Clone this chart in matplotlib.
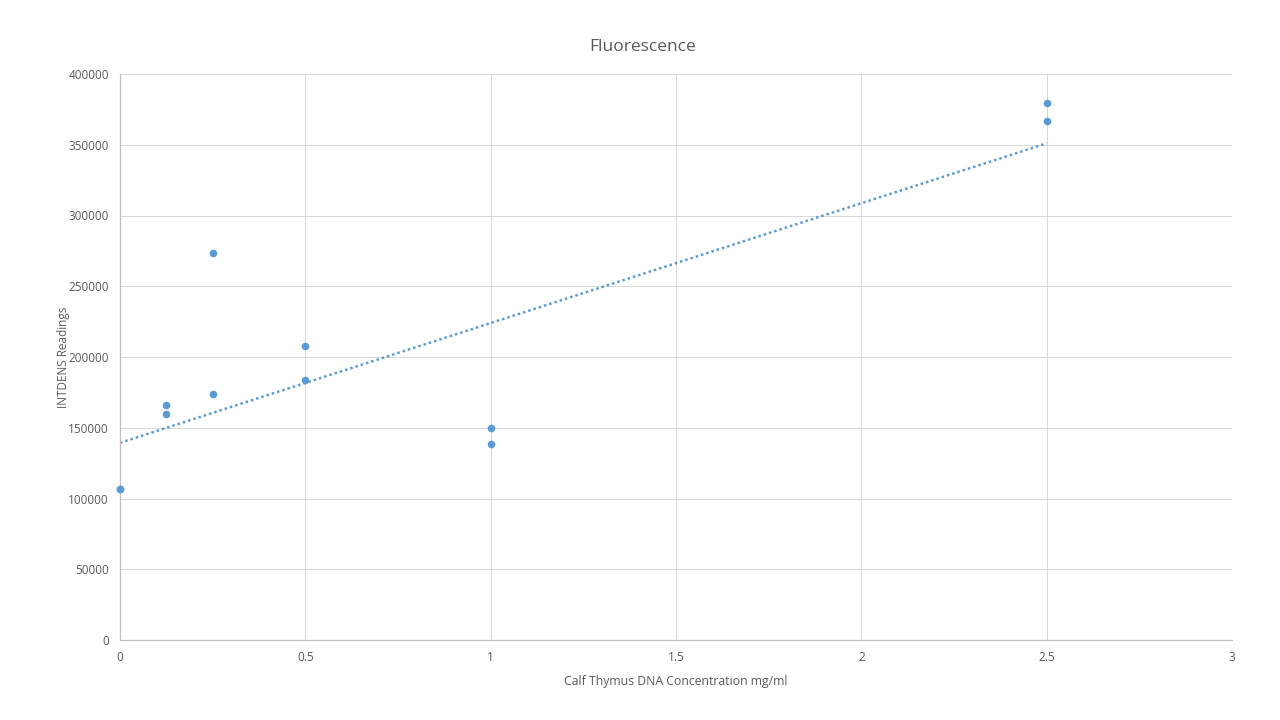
import numpy as np
import matplotlib
matplotlib.use("Agg")
import matplotlib.pyplot as plt

plt.rcParams['font.family'] = ['Open Sans', 'DejaVu Sans']

concentration = [0, 0, 0.125, 0.125, 0.25, 0.25, 0.5, 0.5, 1, 1, 2.5, 2.5]
readings = [107000, 106800, 166000, 159700, 273500, 173900, 207800, 183700,
            149800, 138500, 379500, 366800]

title = "Fluorescence"
xlabel = "Calf Thymus DNA Concentration mg/ml"
ylabel = "INTDENS Readings"
xticks = [0, 0.5, 1, 1.5, 2, 2.5, 3]
xticklabels = ["0", "0.5", "1", "1.5", "2", "2.5", "3"]
yticks = [0, 50000, 100000, 150000, 200000, 250000, 300000, 350000, 400000]

blue = "#5B9BD5"
grid_c = "#D9D9D9"
text_c = "#595959"

fig = plt.figure(figsize=(12.8, 7.2), dpi=100)
ax = fig.add_axes([120/1280, 1-640/720, (1232-120)/1280, (640-74)/720])

x = np.array(concentration)
y = np.array(readings)
slope, intercept = np.polyfit(x, y, 1)
xt = np.array([x.min(), x.max()])
ax.plot(xt, slope*xt + intercept, linestyle=(0, (1, 1.2)), color=blue, lw=1.8, zorder=2)
ax.scatter(x, y, s=30, color=blue, zorder=3, clip_on=False, linewidths=0)

ax.set_xlim(0, 3)
ax.set_ylim(0, 400000)
ax.set_xticks(xticks)
ax.set_xticklabels(xticklabels)
ax.set_yticks(yticks)
ax.set_yticklabels([str(v) for v in yticks])
ax.grid(True, color=grid_c, lw=0.75)
ax.set_axisbelow(True)
for s in ['top', 'right']:
    ax.spines[s].set_visible(False)
for s in ['left', 'bottom']:
    ax.spines[s].set_color("#BFBFBF")
    ax.spines[s].set_linewidth(0.9)
ax.tick_params(length=0, colors=text_c, labelsize=8.5, pad=8)

fig.text(0.502, 1-47/720, title, fontsize=12.5, color=text_c, ha='center', va='center')
ax.set_xlabel(xlabel, fontsize=8.8, color=text_c, labelpad=8)
ax.set_ylabel(ylabel, fontsize=8.5, color=text_c)
ax.yaxis.set_label_coords(-50/1112, 0.5)

fig.savefig("out.png", dpi=100, facecolor="white")
